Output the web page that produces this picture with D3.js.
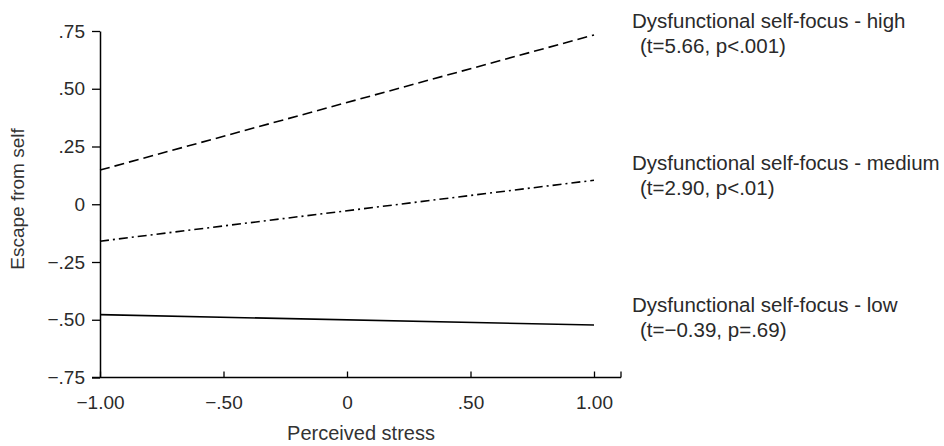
<!DOCTYPE html>
<html>
<head>
<meta charset="utf-8">
<script src="https://cdn.jsdelivr.net/npm/d3@7"></script>
<style>
  body { margin: 0; background: #fff; }
  svg { font-family: "Liberation Sans", Arial, sans-serif; }
  .tick text { fill: #2a2a2a; }
</style>
</head>
<body>
<div id="chart"></div>
<script>
// values
const stressLevels = [-1, 1];
const highValues = [0.148, 0.733];
const mediumValues = [-0.16, 0.104];
const lowValues = [-0.478, -0.523];

const xTicks = [-1, -0.5, 0, 0.5, 1];
const yTicks = [-0.75, -0.5, -0.25, 0, 0.25, 0.5, 0.75];

const seriesNames = ['high', 'medium', 'low'];
const seriesStats = ['(t=5.66, p<.001)', '(t=2.90, p<.01)', '(t=\u22120.39, p=.69)'];

const width = 944;
const height = 446;

const svg = d3.select('#chart').append('svg')
	.attr('width', width)
	.attr('height', height);

const x = d3.scaleLinear().domain([-1, 1]).range([100, 594]);
const y = d3.scaleLinear().domain([-0.75, 0.75]).range([377.5, 31]);

// label with the long minus and no leading zero
const fmt = d => {
	if (d === 0) return '0';
	let s = d3.format('.2f')(Math.abs(d)).replace(/^0/, '');
	return d < 0 ? '\u2212' + s : s;
};

// x axis, ticks pointing up, line runs past 1.00
const xAxis = svg.append('g')
	.attr('transform', `translate(0,${y(-0.75)})`)
	.call(d3.axisBottom(x).tickValues(xTicks).tickSize(-6).tickSizeOuter(0).tickFormat(fmt));
xAxis.select('.domain').remove();
xAxis.append('line')
	.attr('x1', 92).attr('x2', 621)
	.attr('stroke', '#000').attr('stroke-width', 1.3);
xAxis.append('line')
	.attr('x1', 621).attr('x2', 621).attr('y1', 0).attr('y2', -6)
	.attr('stroke', '#000').attr('stroke-width', 1.3);
xAxis.selectAll('.tick line').attr('stroke-width', 1.3);
xAxis.selectAll('.tick text')
	.attr('y', 31)
	.attr('dy', 0)
	.style('font-size', '19px');

// y axis
const yAxis = svg.append('g')
	.attr('transform', `translate(${x(-1)},0)`)
	.call(d3.axisLeft(y).tickValues(yTicks).tickSize(8).tickSizeOuter(0).tickFormat(fmt));
yAxis.select('.domain').attr('stroke-width', 1.5);
yAxis.selectAll('.tick line').attr('stroke-width', 1.3);
yAxis.selectAll('.tick text')
	.attr('x', -15)
	.style('font-size', '19px');

// axis titles
svg.append('text')
	.attr('transform', `translate(24,199) rotate(-90)`)
	.attr('text-anchor', 'middle')
	.style('font-size', '19px')
	.style('fill', '#333')
	.text('Escape from self');

svg.append('text')
	.attr('x', 361)
	.attr('y', 440)
	.attr('text-anchor', 'middle')
	.style('font-size', '20px')
	.style('fill', '#333')
	.text('Perceived stress');

// lines
const series = [
	{ name: 'high', values: highValues, dash: '10,5' },
	{ name: 'medium', values: mediumValues, dash: '9,4,2,4' },
	{ name: 'low', values: lowValues, dash: null }
];

const line = d3.line()
	.x((d, i) => x(stressLevels[i]))
	.y(d => y(d));

svg.selectAll('.series')
	.data(series)
	.enter()
	.append('path')
	.attr('class', 'series')
	.attr('d', d => line(d.values))
	.style('fill', 'none')
	.style('stroke', '#000')
	.style('stroke-width', 1.6)
	.style('stroke-dasharray', d => d.dash);

// labels at the right end of each line
const labels = svg.selectAll('.label')
	.data(series)
	.enter()
	.append('text')
	.attr('class', 'label')
	.style('font-size', '20.5px')
	.style('fill', '#2a2a2a');

const labelY = [28, 170, 312];

labels.append('tspan')
	.attr('x', 632)
	.attr('y', (d, i) => labelY[i])
	.text((d, i) => 'Dysfunctional self-focus - ' + seriesNames[i]);

labels.append('tspan')
	.attr('x', 640)
	.attr('y', (d, i) => labelY[i] + 25)
	.text((d, i) => seriesStats[i]);
</script>
</body>
</html>
